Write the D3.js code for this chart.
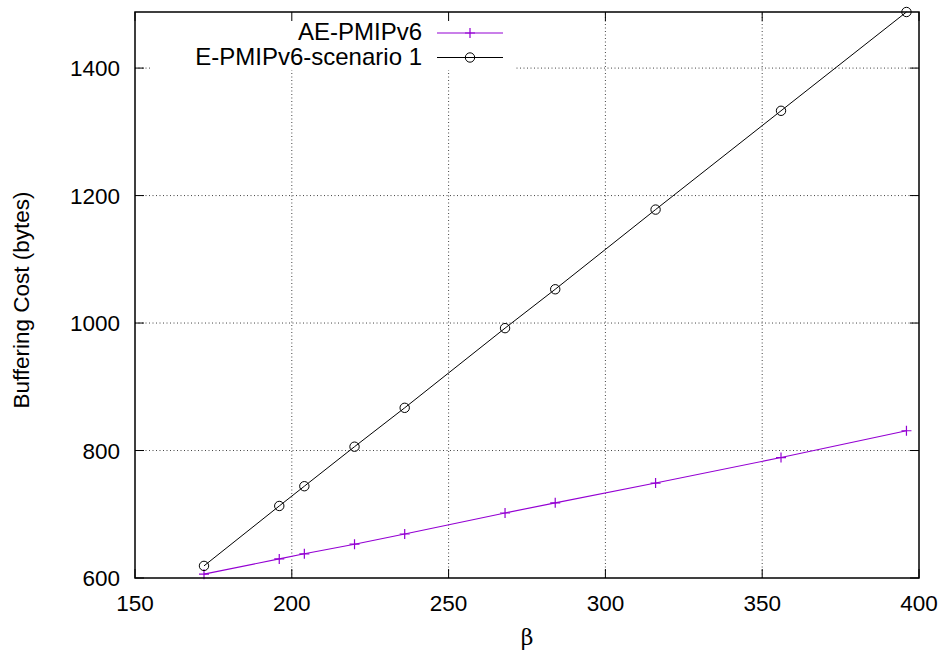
<!DOCTYPE html>
<html>
<head>
<meta charset="utf-8">
<script src="https://cdn.jsdelivr.net/npm/d3@7"></script>
<style>
  body { margin: 0; background: #fff; }
  text { font-family: "Liberation Sans", Arial, sans-serif; fill: #000; }
</style>
</head>
<body>
<div id="svgDiv"></div>
<script>
// data
const betaValues = [172, 196, 204, 220, 236, 268, 284, 316, 356, 396]
const aePmip = [606, 630, 638, 653, 669, 702, 718, 749, 789, 831]
const ePmipScenario1 = [619, 713, 744, 806, 867, 992, 1053, 1178, 1333, 1488]
const xTicks = [150, 200, 250, 300, 350, 400]
const yTicks = [600, 800, 1000, 1200, 1400]
const seriesNames = ['AE-PMIPv6', 'E-PMIPv6-scenario 1']

var width = 945,
    height = 651,
    margin = {top: 12, right: 26, bottom: 73, left: 135};

var svg = d3.select('#svgDiv')
    .append('svg')
        .attr('width', width)
        .attr('height', height)

var x = d3.scaleLinear()
    .domain([150, 400])
    .range([margin.left, width - margin.right]);

var y = d3.scaleLinear()
    .domain([600, 1488])
    .range([height - margin.bottom, margin.top]);

var x0 = x.range()[0], x1 = x.range()[1],
    y0 = y.range()[0], y1 = y.range()[1];

// grid lines (dotted)
var grid = svg.append('g')
grid.selectAll('.vgrid')
    .data(xTicks.filter(d => d > 150 && d < 400))
    .join('line')
    .attr('x1', d => x(d)).attr('x2', d => x(d))
    .attr('y1', y0).attr('y2', y1)
grid.selectAll('.hgrid')
    .data(yTicks.filter(d => d > 600))
    .join('line')
    .attr('x1', x0).attr('x2', x1)
    .attr('y1', d => y(d)).attr('y2', d => y(d))
grid.selectAll('line')
    .style('stroke', '#444')
    .style('stroke-width', 1)
    .style('stroke-dasharray', '1,2.5')

// opaque legend box covers the grid
svg.append('rect')
    .attr('x', 150).attr('y', y1 + 1)
    .attr('width', 366).attr('height', 57)
    .style('fill', '#fff')

// tick marks, inward, mirrored on all sides
var ticks = svg.append('g').style('stroke', '#000').style('stroke-width', 1)
xTicks.forEach(function(t){
    ticks.append('line').attr('x1', x(t)).attr('x2', x(t)).attr('y1', y0).attr('y2', y0 - 9)
    ticks.append('line').attr('x1', x(t)).attr('x2', x(t)).attr('y1', y1).attr('y2', y1 + 9)
})
yTicks.forEach(function(t){
    ticks.append('line').attr('x1', x0).attr('x2', x0 + 9).attr('y1', y(t)).attr('y2', y(t))
    ticks.append('line').attr('x1', x1).attr('x2', x1 - 9).attr('y1', y(t)).attr('y2', y(t))
})

// tick labels
svg.append('g')
    .selectAll('text')
    .data(xTicks)
    .join('text')
    .attr('x', d => x(d))
    .attr('y', y0 + 33)
    .attr('text-anchor', 'middle')
    .style('font-size', '22.5px')
    .text(d => d)

svg.append('g')
    .selectAll('text')
    .data(yTicks)
    .join('text')
    .attr('x', x0 - 15)
    .attr('y', d => y(d) + 8)
    .attr('text-anchor', 'end')
    .style('font-size', '22.5px')
    .text(d => d)

// axis titles
svg.append('text')
    .attr('transform', 'translate(29,' + 300 + ') rotate(-90)')
    .attr('text-anchor', 'middle')
    .style('font-size', '22.5px')
    .text('Buffering Cost (bytes)')

svg.append('text')
    .attr('x', 527)
    .attr('y', 645)
    .attr('text-anchor', 'middle')
    .style('font-family', '"DejaVu Serif", serif')
    .style('font-size', '22px')
    .text('β')

// series
const purple = '#9400d3'
var line = d3.line()
    .x(d => x(d[0]))
    .y(d => y(d[1]));

var aeData = betaValues.map((b, i) => [b, aePmip[i]])
var eData = betaValues.map((b, i) => [b, ePmipScenario1[i]])

svg.append('path')
    .datum(aeData)
    .attr('d', line)
    .style('fill', 'none')
    .style('stroke', purple)
    .style('stroke-width', 1.2)

svg.append('path')
    .datum(eData)
    .attr('d', line)
    .style('fill', 'none')
    .style('stroke', '#000')
    .style('stroke-width', 1)

function plus(g, cx, cy){
    g.append('path')
        .attr('d', 'M' + (cx - 5) + ',' + cy + 'H' + (cx + 5) + 'M' + cx + ',' + (cy - 5) + 'V' + (cy + 5))
        .style('stroke', purple)
        .style('stroke-width', 1.2)
}
function circle(g, cx, cy){
    g.append('circle')
        .attr('cx', cx).attr('cy', cy).attr('r', 4.7)
        .style('fill', 'none')
        .style('stroke', '#000')
        .style('stroke-width', 1)
}

var pts = svg.append('g')
aeData.forEach(d => plus(pts, x(d[0]), y(d[1])))
eData.forEach(d => circle(pts, x(d[0]), y(d[1])))

// legend
var legend = svg.append('g')
legend.selectAll('text')
    .data(seriesNames)
    .join('text')
    .attr('x', 422)
    .attr('y', (d, i) => 40 + i * 25)
    .attr('text-anchor', 'end')
    .style('font-size', '24px')
    .text(d => d)

legend.append('line')
    .attr('x1', 437).attr('x2', 503).attr('y1', 33).attr('y2', 33)
    .style('stroke', purple).style('stroke-width', 1.2)
plus(legend, 470, 33)
legend.append('line')
    .attr('x1', 437).attr('x2', 503).attr('y1', 57.5).attr('y2', 57.5)
    .style('stroke', '#000').style('stroke-width', 1)
circle(legend, 470, 57.5)

// border
svg.append('rect')
    .attr('x', x0).attr('y', y1)
    .attr('width', x1 - x0).attr('height', y0 - y1)
    .style('fill', 'none')
    .style('stroke', '#000')
    .style('stroke-width', 1.5)
</script>
</body>
</html>
